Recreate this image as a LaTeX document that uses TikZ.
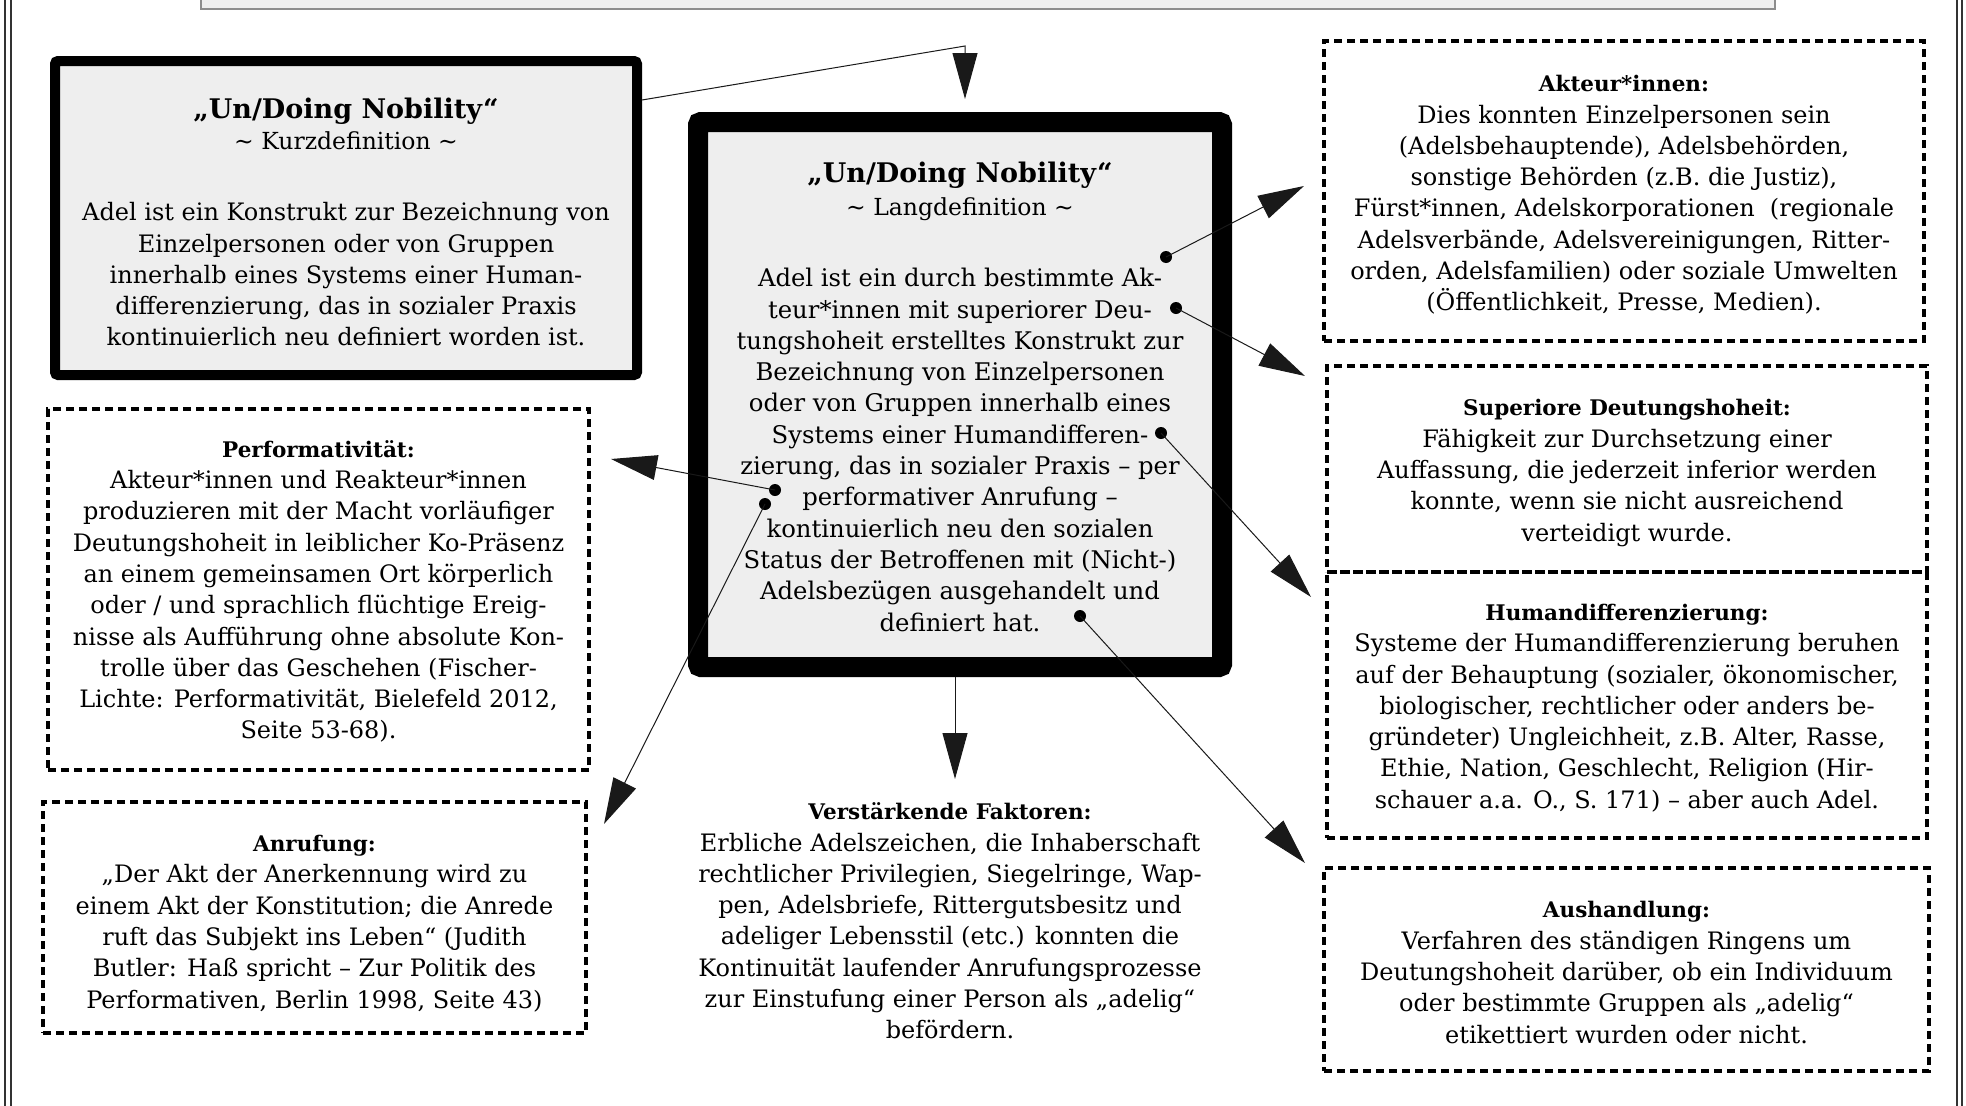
\documentclass[tikz,border=0pt]{standalone}
\usepackage{fontspec}
\setmainfont{DejaVu Serif}
\usetikzlibrary{arrows.meta}
\definecolor{boxgrey}{HTML}{EEEEEE}
\definecolor{edgegrey}{HTML}{8C8C8C}
\tikzset{
  thickbox/.style={draw=black, fill=boxgrey, rounded corners=3pt, inner sep=0pt},
  dashbox/.style={draw=black, line width=3.5pt, dash pattern=on 8pt off 5pt, inner sep=0pt},
  bodyfont/.style={font=\fontsize{24}{31.3}\selectfont},
  langfont/.style={font=\fontsize{24.3}{31.3}\selectfont},
  boxtext/.style={align=center, inner sep=0pt, bodyfont},
  conn/.style={draw=black!90, line width=1pt, -{Triangle[length=46pt,width=25pt]}},
  dotst/.style={circle, fill=black, inner sep=0pt, minimum size=12pt},
  frameline/.style={draw=black!80, line width=1.2pt}
}
\newcommand{\bigtitle}[1]{{\fontsize{27}{34}\selectfont\bfseries #1}}
\newcommand{\subtitle}[1]{{\fontsize{23.5}{31.3}\selectfont #1}}
\newcommand{\boxhead}[1]{{\fontsize{21.5}{31.3}\selectfont\bfseries #1}}
\begin{document}
\begin{tikzpicture}[x=1pt,y=-1pt]
\useasboundingbox (0,0) rectangle (1966,1106);
% outer frame and clipped top box
\draw[frameline] (5,0) -- (5,1106);
\draw[frameline] (11,0) -- (11,1106);
\draw[frameline] (1957,0) -- (1957,1106);
\draw[frameline] (1962,0) -- (1962,1106);
\node[draw=edgegrey, fill=boxgrey, line width=1.5pt, minimum width=1574pt, minimum height=40pt, inner sep=0pt] (topbox) at (988,-11) {};

% central boxes
\node[thickbox, line width=10pt, minimum width=582pt, minimum height=314pt] (kurz) at (346,218) {};
\node[boxtext, yshift=-4pt] (kurz-t) at (kurz.center) {%
\bigtitle{„Un/Doing Nobility“}\\
\subtitle{\textasciitilde{} Kurzdefinition \textasciitilde}\\[40pt]
Adel ist ein Konstrukt zur Bezeichnung von\\
Einzelpersonen oder von Gruppen\\
innerhalb eines Systems einer Human-\\
differenzierung, das in sozialer Praxis\\
kontinuierlich neu definiert worden ist.};

\node[thickbox, line width=20pt, minimum width=524pt, minimum height=545pt] (lang) at (960,394.5) {};
\node[boxtext, langfont, yshift=-2pt] (lang-t) at (lang.center) {%
\bigtitle{„Un/Doing Nobility“}\\[2.5pt]
\subtitle{\textasciitilde{} Langdefinition \textasciitilde}\\[39.5pt]
Adel ist ein durch bestimmte Ak-\\
teur*innen mit superiorer Deu-\\
tungshoheit erstelltes Konstrukt zur\\
Bezeichnung von Einzelpersonen\\
oder von Gruppen innerhalb eines\\
Systems einer Humandifferen-\\
zierung, das in sozialer Praxis – per\\
performativer Anrufung –\\
kontinuierlich neu den sozialen\\
Status der Betroffenen mit (Nicht-)\\
Adelsbezügen ausgehandelt und\\
definiert hat.};

% dashed boxes
\node[dashbox, minimum width=600pt, minimum height=300pt] (akt) at (1624,191) {};
\node[boxtext, yshift=-4pt] (akt-t) at (akt.center) {%
\boxhead{Akteur*innen:}\\
Dies konnten Einzelpersonen sein\\
(Adelsbehauptende), Adelsbehörden,\\
sonstige Behörden (z.B. die Justiz),\\
Fürst*innen, Adelskorporationen\ \ (regionale\\
Adelsverbände, Adelsvereinigungen, Ritter-\\
orden, Adelsfamilien) oder soziale Umwelten\\
(Öffentlichkeit, Presse, Medien).};

\node[dashbox, minimum width=600pt, minimum height=206pt] (sup) at (1627,469) {};
\node[boxtext, yshift=-4pt] (sup-t) at (sup.center) {%
\boxhead{Superiore Deutungshoheit:}\\
Fähigkeit zur Durchsetzung einer\\
Auffassung, die jederzeit inferior werden\\
konnte, wenn sie nicht ausreichend\\
verteidigt wurde.};

\node[dashbox, minimum width=600pt, minimum height=266pt] (hum) at (1627,705) {};
\node[boxtext, yshift=-3pt] (hum-t) at (hum.center) {%
\boxhead{Humandifferenzierung:}\\
Systeme der Humandifferenzierung beruhen\\
auf der Behauptung (sozialer, ökonomischer,\\
biologischer, rechtlicher oder anders be-\\
gründeter) Ungleichheit, z.B. Alter, Rasse,\\
Ethie, Nation, Geschlecht, Religion (Hir-\\
schauer a.a. O., S. 171) – aber auch Adel.};

\node[dashbox, minimum width=605pt, minimum height=203pt] (aus) at (1626.5,969.5) {};
\node[boxtext, yshift=-3pt] (aus-t) at (aus.center) {%
\boxhead{Aushandlung:}\\
Verfahren des ständigen Ringens um\\
Deutungshoheit darüber, ob ein Individuum\\
oder bestimmte Gruppen als „adelig“\\
etikettiert wurden oder nicht.};

\node[dashbox, minimum width=541pt, minimum height=361pt] (perf) at (318.5,589.5) {};
\node[boxtext, yshift=-2pt] (perf-t) at (perf.center) {%
\boxhead{Performativität:}\\
Akteur*innen und Reakteur*innen\\
produzieren mit der Macht vorläufiger\\
Deutungshoheit in leiblicher Ko-Präsenz\\
an einem gemeinsamen Ort körperlich\\
oder / und sprachlich flüchtige Ereig-\\
nisse als Aufführung ohne absolute Kon-\\
trolle über das Geschehen (Fischer-\\
Lichte: Performativität, Bielefeld 2012,\\
Seite 53-68).};

\node[dashbox, minimum width=543pt, minimum height=231pt] (anr) at (314.5,917.5) {};
\node[boxtext, yshift=-6pt] (anr-t) at (anr.center) {%
\boxhead{Anrufung:}\\
„Der Akt der Anerkennung wird zu\\
einem Akt der Konstitution; die Anrede\\
ruft das Subjekt ins Leben“ (Judith\\
Butler: Haß spricht – Zur Politik des\\
Performativen, Berlin 1998, Seite 43)};

\node[boxtext] (verst) at (950,921) {%
\boxhead{Verstärkende Faktoren:}\\
Erbliche Adelszeichen, die Inhaberschaft\\
rechtlicher Privilegien, Siegelringe, Wap-\\
pen, Adelsbriefe, Rittergutsbesitz und\\
adeliger Lebensstil (etc.) konnten die\\
Kontinuität laufender Anrufungsprozesse\\
zur Einstufung einer Person als „adelig“\\
befördern.};

% dots inside the long definition
\node[dotst] (d1) at (1166,257) {};
\node[dotst] (d2) at (1176,308) {};
\node[dotst] (d3) at (1161,433) {};
\node[dotst] (d4) at (1080,616) {};
\node[dotst] (d5) at (775,490) {};
\node[dotst] (d6) at (765,504) {};

% arrow end points
\coordinate (t1) at (1304,186);
\coordinate (t2) at (1305,376);
\coordinate (t3) at (1311,597);
\coordinate (t4) at (1305,863);
\coordinate (t5) at (611,459);
\coordinate (t6) at (604,824);
\coordinate (t7) at (955,779);
\coordinate (t0) at (965,99);
\coordinate (k0) at (965,46);

\draw[conn] (d1.center) -- (t1);
\draw[conn] (d2.center) -- (t2);
\draw[conn] (d3.center) -- (t3);
\draw[conn] (d4.center) -- (t4);
\draw[conn] (d5.center) -- (t5);
\draw[conn] (d6.center) -- (t6);
\draw[conn] (lang.south -| t7) -- (t7);
\draw[conn] (kurz.east |- 0,100) -- (k0) -- (t0);
\end{tikzpicture}
\end{document}
